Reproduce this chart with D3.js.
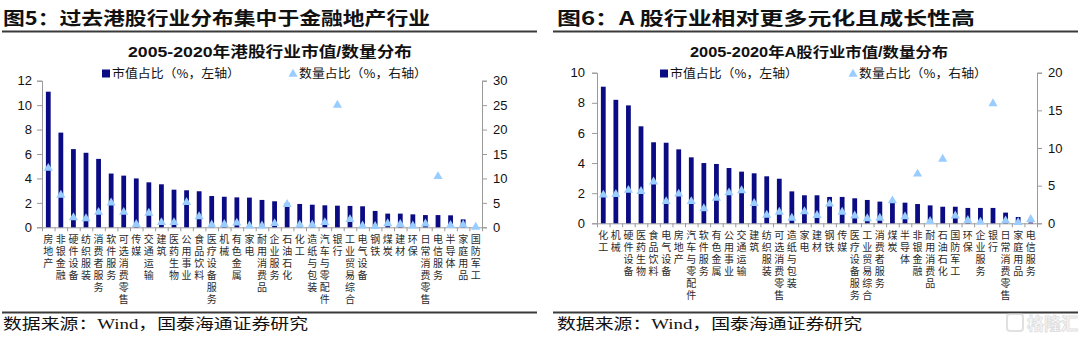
<!DOCTYPE html>
<html>
<head>
<meta charset="utf-8">
<script src="https://cdn.jsdelivr.net/npm/d3@7"></script>
<style>
  html, body { margin: 0; padding: 0; background: #fff; }
  svg { display: block; }
  .cjk { font-family: "Noto Sans CJK SC", sans-serif; }
  .num { font-family: "Liberation Sans", Arial, "Noto Sans CJK SC", sans-serif; }
  .vlabel { writing-mode: vertical-rl; text-orientation: upright; }
</style>
</head>
<body>
<svg id="chart" width="1080" height="337"></svg>
<script>
// ---- Hong Kong market: industry share of market value / company count, 2005-2020 ----
const hkIndustries = ["房地产","非银金融","硬件设备","纺织服装","消费者服务","软件服务","可选消费零售","传媒","交通运输","建筑","医药生物","公用事业","食品饮料","医疗设备服务","机械","有色金属","家电","耐用消费品","企业服务","石油石化","化工","造纸与包装","汽车与零配件","银行","工业贸易综合","电气设备","钢铁","煤炭","建材","环保","日常消费零售","电信服务","半导体","家庭用品","国防军工"];
const hkValueShare = [11.1, 7.75, 6.4, 6.1, 5.6, 4.4, 4.23, 4.0, 3.68, 3.52, 3.08, 3.03, 2.95, 2.56, 2.5, 2.45, 2.43, 2.24, 2.13, 2.0, 1.91, 1.85, 1.8, 1.77, 1.75, 1.72, 1.34, 1.12, 1.12, 1.06, 1.0, 1.0, 0.98, 0.65, 0.05];
const hkCountShare = [12.1, 6.6, 2.0, 1.8, 3.1, 5.0, 3.1, 0.6, 2.9, 1.0, 1.0, 5.1, 2.2, 0.5, 0.6, 0.9, 0.3, 0.3, 0.8, 4.7, 0.5, 0.5, 1.0, 25.0, 1.6, 0.3, 0.2, 0.75, 0.6, 0.3, 0.7, 10.4, 0.4, 0.5, 0.05];
const hkLeftTicks = [0, 2, 4, 6, 8, 10, 12];
const hkRightTicks = [0, 5, 10, 15, 20, 25, 30];

// ---- A-share market ----
const aIndustries = ["化工","机械","硬件设备","医药生物","食品饮料","电气设备","房地产","汽车与零配件","软件服务","有色金属","公用事业","交通运输","建筑","纺织服装","可选消费零售","造纸与包装","家电","建材","钢铁","传媒","医疗设备服务","工业贸易综合","消费者服务","煤炭","半导体","非银金融","耐用消费品","石油石化","国防军工","环保","企业服务","银行","日常消费零售","家庭用品","电信服务"];
const aValueShare = [9.07, 8.2, 7.83, 6.44, 5.38, 5.35, 4.91, 4.38, 4.0, 3.94, 3.67, 3.43, 3.32, 3.12, 2.96, 2.12, 1.86, 1.86, 1.75, 1.75, 1.66, 1.55, 1.44, 1.42, 1.37, 1.28, 1.19, 1.1, 1.1, 1.02, 1.02, 1.02, 0.71, 0.42, 0.05];
const aCountShare = [3.76, 3.85, 4.4, 4.25, 5.5, 2.9, 3.9, 2.9, 1.95, 3.36, 4.07, 4.34, 2.65, 1.1, 1.5, 0.7, 1.55, 1.06, 2.57, 1.5, 1.0, 0.62, 0.7, 3.0, 0.88, 6.55, 0.27, 8.54, 1.0, 0.4, 0.18, 15.9, 0.35, 0.13, 0.53];
const aLeftTicks = [0, 2, 4, 6, 8, 10];
const aRightTicks = [0, 5, 10, 15, 20];

const legendValue = "市值占比（%，左轴）";
const legendCount = "数量占比（%，右轴）";
const sourceText = "数据来源：Wind，国泰海通证券研究";

const BAR = "#0b0b84";
const TRI = "#99ccff";
const AXIS = "#9a9a9a";

const svg = d3.select("#chart");

function drawPanel(cfg) {
  const g = svg.append("g");

  // Figure heading and rules
  g.append("text").attr("class", "cjk")
    .attr("x", cfg.headX).attr("y", 25)
    .attr("font-size", 18).attr("font-weight", 700).attr("fill", "#111")
    .attr("textLength", cfg.headLen).attr("lengthAdjust", "spacingAndGlyphs")
    .text(cfg.heading);
  g.append("line").attr("x1", cfg.ruleX0).attr("x2", cfg.ruleX1)
    .attr("y1", 31.5).attr("y2", 31.5).attr("stroke", "#3a3a3a").attr("stroke-width", 2);
  g.append("line").attr("x1", cfg.ruleX0).attr("x2", cfg.ruleX1)
    .attr("y1", 312.5).attr("y2", 312.5).attr("stroke", "#3a3a3a").attr("stroke-width", 2);

  // Chart title
  g.append("text").attr("class", "num")
    .attr("x", (cfg.x0 + cfg.x1) / 2 + cfg.titleShift).attr("y", 57)
    .attr("text-anchor", "middle").attr("font-size", cfg.titleSize).attr("font-weight", 700)
    .attr("fill", "#111")
    .attr("textLength", cfg.titleLen).attr("lengthAdjust", "spacingAndGlyphs")
    .text(cfg.title);

  // Scales
  const x = d3.scaleBand().domain(cfg.cats).range([cfg.x0, cfg.x1])
    .paddingInner(0.62).paddingOuter(0.31);
  const xEdge = d3.scaleLinear().domain([0, cfg.cats.length]).range([cfg.x0, cfg.x1]);
  const yL = d3.scaleLinear().domain([0, d3.max(cfg.leftTicks)]).range([cfg.yBottom, cfg.yTop]);
  const yR = d3.scaleLinear().domain([0, d3.max(cfg.rightTicks)]).range([cfg.yBottom, cfg.yTop]);

  // Axes
  const styleAxis = sel => {
    sel.selectAll("path, line").attr("stroke", AXIS);
    sel.selectAll("text").attr("fill", "#111").attr("font-size", 13)
      .attr("font-family", "Liberation Sans, Arial, sans-serif");
  };
  g.append("g").attr("transform", `translate(${cfg.x0},0)`)
    .call(d3.axisLeft(yL).tickValues(cfg.leftTicks).tickSize(5).tickSizeOuter(5)
      .tickPadding(cfg.padL).tickFormat(d3.format("d")))
    .call(styleAxis);
  g.append("g").attr("transform", `translate(${cfg.x1},0)`)
    .call(d3.axisRight(yR).tickValues(cfg.rightTicks).tickSize(5).tickSizeOuter(5)
      .tickPadding(6).tickFormat(d3.format("d")))
    .call(styleAxis);
  g.append("g").attr("transform", `translate(0,${cfg.yBottom})`)
    .call(d3.axisBottom(xEdge).tickValues(d3.range(0, cfg.cats.length + 1))
      .tickSize(4).tickSizeOuter(0).tickFormat(""))
    .call(styleAxis);

  // Bars: market value share (left axis)
  g.append("g").selectAll("rect").data(cfg.values).join("rect")
    .attr("x", (d, i) => x(cfg.cats[i]))
    .attr("width", x.bandwidth())
    .attr("y", d => yL(d))
    .attr("height", d => cfg.yBottom - yL(d))
    .attr("fill", BAR);

  // Triangles: company count share (right axis)
  const tri = d3.symbol(d3.symbolTriangle).size(36);
  g.append("g").selectAll("path").data(cfg.counts).join("path")
    .attr("d", tri)
    .attr("transform", (d, i) => `translate(${x(cfg.cats[i]) + x.bandwidth() / 2},${yR(d)})`)
    .attr("fill", TRI);

  // Vertical category labels set in a top-to-bottom column
  g.append("g").attr("class", "cjk").attr("font-size", 10).attr("fill", "#2a2a2a")
    .selectAll("text").data(cfg.cats).join("text")
    .attr("class", "vlabel")
    .attr("x", d => x(d) + x.bandwidth() / 2)
    .attr("y", cfg.yBottom + 7)
    .attr("letter-spacing", 1.9)
    .text(d => d);

  // Legend
  const lg = g.append("g").attr("class", "cjk").attr("font-size", 12).attr("fill", "#111");
  lg.append("rect").attr("x", cfg.legX1).attr("y", 69.5).attr("width", 8).attr("height", 8).attr("fill", BAR);
  lg.append("text").attr("x", cfg.legX1 + 10).attr("y", 78)
    .attr("textLength", cfg.legLen).attr("lengthAdjust", "spacingAndGlyphs").text(legendValue);
  lg.append("path").attr("d", tri).attr("transform", `translate(${cfg.legX2 + 4},74)`).attr("fill", TRI);
  lg.append("text").attr("x", cfg.legX2 + 10).attr("y", 78)
    .attr("textLength", cfg.legLen).attr("lengthAdjust", "spacingAndGlyphs").text(legendCount);

  // Source note
  g.append("text").attr("x", cfg.headX).attr("y", 329)
    .attr("font-family", "Liberation Serif, Noto Sans CJK SC, serif")
    .attr("font-size", 15).attr("fill", "#111")
    .attr("textLength", 305).attr("lengthAdjust", "spacingAndGlyphs")
    .text(sourceText);
}

drawPanel({
  heading: "图5：过去港股行业分布集中于金融地产行业", headX: 3, headLen: 427,
  ruleX0: 2, ruleX1: 537,
  title: "2005-2020年港股行业市值/数量分布", titleSize: 14.5, titleLen: 284, titleShift: 8,
  cats: hkIndustries, values: hkValueShare, counts: hkCountShare,
  leftTicks: hkLeftTicks, rightTicks: hkRightTicks,
  x0: 42, x1: 482, yTop: 80.7, yBottom: 227.3, padL: 5,
  legX1: 102, legX2: 289, legLen: 128
});

drawPanel({
  heading: "图6：A 股行业相对更多元化且成长性高", headX: 557, headLen: 418,
  ruleX0: 553, ruleX1: 1078,
  title: "2005-2020年A股行业市值/数量分布", titleSize: 14, titleLen: 258, titleShift: 2,
  cats: aIndustries, values: aValueShare, counts: aCountShare,
  leftTicks: aLeftTicks, rightTicks: aRightTicks,
  x0: 597, x1: 1037, yTop: 72.7, yBottom: 223.3, padL: 7,
  legX1: 660, legX2: 849, legLen: 128
});

// Faint publisher mark in the lower right corner
const wm = svg.append("g").attr("opacity", 0.55);
wm.append("rect").attr("x", 1007).attr("y", 314).attr("width", 16).attr("height", 17).attr("rx", 3)
  .attr("fill", "none").attr("stroke", "#c8c8c8").attr("stroke-width", 2);
wm.append("text").attr("class", "cjk").attr("x", 1027).attr("y", 330)
  .attr("font-size", 17).attr("font-weight", 700).attr("fill", "none")
  .attr("stroke", "#c8c8c8").attr("stroke-width", 1).text("格隆汇");
</script>
</body>
</html>
